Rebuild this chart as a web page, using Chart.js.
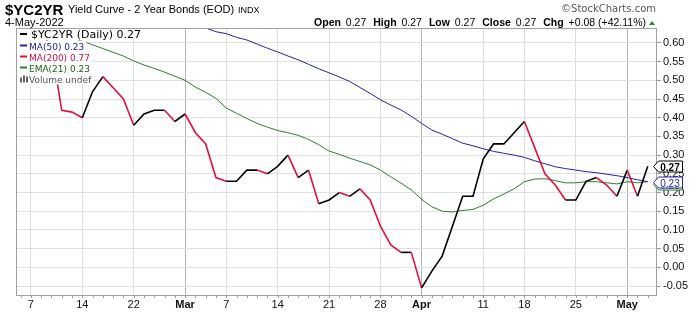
<!DOCTYPE html>
<html>
<head>
<meta charset="utf-8">
<script src="https://cdn.jsdelivr.net/npm/chart.js@4.4.1/dist/chart.umd.min.js"></script>
<style>
html, body { margin: 0; padding: 0; background: #fff; }
</style>
</head>
<body>
<canvas id="yc" width="700" height="312"></canvas>
<script>
// trading days shown, 4-Feb-2022 .. 4-May-2022
const dates = [
  '02-04', '02-07', '02-08', '02-09', '02-10', '02-11', '02-14', '02-15', '02-16', '02-17', '02-18',
  '02-22', '02-23', '02-24', '02-25', '02-28', '03-01', '03-02', '03-03', '03-04',
  '03-07', '03-08', '03-09', '03-10', '03-11', '03-14', '03-15', '03-16', '03-17', '03-18',
  '03-21', '03-22', '03-23', '03-24', '03-25', '03-28', '03-29', '03-30', '03-31', '04-01',
  '04-04', '04-05', '04-06', '04-07', '04-08', '04-11', '04-12', '04-13', '04-14',
  '04-18', '04-19', '04-20', '04-21', '04-22', '04-25', '04-26', '04-27', '04-28', '04-29',
  '05-02', '05-03', '05-04'
];

const closeValues = [
  0.62, 0.61, 0.63, 0.59, 0.42, 0.415, 0.40, 0.47, 0.51, 0.48, 0.45,
  0.38, 0.41, 0.42, 0.42, 0.39, 0.41, 0.36, 0.33, 0.24,
  0.23, 0.23, 0.26, 0.26, 0.25, 0.27, 0.30, 0.24, 0.26, 0.17,
  0.18, 0.20, 0.19, 0.21, 0.18, 0.11, 0.06, 0.04, 0.04, -0.055,
  -0.01, 0.03, 0.11, 0.19, 0.19, 0.29, 0.33, 0.33, 0.36,
  0.39, 0.32, 0.25, 0.22, 0.18, 0.18, 0.23, 0.24, 0.22, 0.19,
  0.26, 0.19, 0.27
];

const ma50Values = [
  0.80, 0.79, 0.78, 0.77, 0.76, 0.75, 0.74, 0.73, 0.72, 0.71, 0.70,
  0.69, 0.68, 0.675, 0.665, 0.655, 0.65, 0.645, 0.64, 0.63,
  0.625, 0.615, 0.608, 0.597, 0.586, 0.576, 0.565, 0.555, 0.543, 0.531,
  0.52, 0.509, 0.497, 0.481, 0.465, 0.448, 0.434, 0.421, 0.404, 0.385,
  0.367, 0.356, 0.344, 0.332, 0.325, 0.317, 0.31, 0.305, 0.30,
  0.294, 0.285, 0.277, 0.269, 0.264, 0.26, 0.256, 0.253, 0.249, 0.245,
  0.24, 0.234, 0.229
];

const ema21Values = [
  0.64, 0.635, 0.63, 0.625, 0.62, 0.612, 0.605, 0.595, 0.585, 0.575, 0.565,
  0.552, 0.541, 0.532, 0.522, 0.511, 0.50, 0.482, 0.468, 0.452,
  0.426, 0.412, 0.398, 0.385, 0.375, 0.366, 0.360, 0.353, 0.342, 0.328,
  0.311, 0.302, 0.292, 0.283, 0.274, 0.260, 0.242, 0.225, 0.207, 0.182,
  0.162, 0.150, 0.148, 0.152, 0.155, 0.166, 0.183, 0.196, 0.21,
  0.229, 0.236, 0.237, 0.232, 0.226, 0.226, 0.229, 0.229, 0.226, 0.223,
  0.229, 0.226, 0.229
];

const tickDates = ['02-07', '02-14', '02-22', '03-01', '03-07', '03-14', '03-21', '03-28', '04-01', '04-11', '04-18', '04-25', '05-02'];
const tickLabels = ['7', '14', '22', 'Mar', '7', '14', '21', '28', 'Apr', '11', '18', '25', 'May'];
const monthLabels = ['Mar', 'Apr', 'May'];
const yTicks = [-0.05, 0, 0.05, 0.10, 0.15, 0.20, 0.25, 0.30, 0.35, 0.40, 0.45, 0.50, 0.55, 0.60];

const legendNames = ['$YC2YR (Daily)', 'MA(50)', 'MA(200)', 'EMA(21)', 'Volume'];
const legendValues = ['0.27', '0.23', '0.77', '0.23', 'undef'];

const RED = '#e0103c';
const BLACK = '#000000';
const MA_BLUE = '#2424a8';
const EMA_GREEN = '#2b7f2b';
const SANS = '"Liberation Sans", Arial, sans-serif';
const VERD = '"DejaVu Sans", Verdana, sans-serif';

const tickPos = tickDates.map(d => dates.indexOf(d));
const labelAt = {};
tickPos.forEach((p, i) => { labelAt[p] = tickLabels[i]; });
const monthPos = tickPos.filter((p, i) => monthLabels.includes(tickLabels[i]));

const toXY = arr => arr.map((v, i) => ({ x: i, y: v }));

const overlay = {
  id: 'overlay',
  beforeDraw(chart) {
    const ctx = chart.ctx;
    ctx.save();
    ctx.fillStyle = '#fff';
    ctx.fillRect(0, 0, chart.width, chart.height);
    ctx.restore();
  },
  afterDraw(chart) {
    const ctx = chart.ctx;
    const a = chart.chartArea;
    const xs = chart.scales.x, ys = chart.scales.y;
    ctx.save();

    // frame left / top
    ctx.strokeStyle = '#a0a0a0';
    ctx.lineWidth = 1;
    ctx.beginPath();
    ctx.moveTo(a.left + 0.5, a.top + 0.5);
    ctx.lineTo(a.right + 0.5, a.top + 0.5);
    ctx.moveTo(a.left + 0.5, a.top);
    ctx.lineTo(a.left + 0.5, a.bottom + 0.5);
    ctx.stroke();

    // small day ticks under the axis
    ctx.strokeStyle = '#999';
    ctx.beginPath();
    dates.forEach((d, i) => {
      const x = Math.round(xs.getPixelForValue(i)) + 0.5;
      ctx.moveTo(x, a.bottom + 1);
      ctx.lineTo(x, a.bottom + 3);
    });
    ctx.stroke();

    // legend rows
    const rows = [
      { font: '11px ' + VERD, color: '#000', mark: '#000', base: 38, tx: 31 },
      { font: '9px ' + VERD, color: '#1a1a8c', mark: MA_BLUE, base: 49.5, tx: 29 },
      { font: '9px ' + VERD, color: '#cc1040', mark: RED, base: 60.5, tx: 29 },
      { font: '9px ' + VERD, color: '#116611', mark: EMA_GREEN, base: 71.5, tx: 29 },
      { font: '9px ' + VERD, color: '#555', mark: null, base: 82.5, tx: 29 }
    ];
    rows.forEach((r, i) => {
      const text = legendNames[i] + ' ' + legendValues[i];
      ctx.font = r.font;
      const w = ctx.measureText(text).width;
      ctx.fillStyle = '#fff';
      ctx.fillRect(a.left + 1, r.base - 9, r.tx + w + 1 - a.left, 11);
      if (r.mark) {
        ctx.fillStyle = r.mark;
        ctx.fillRect(20, r.base - 5, 7, 2);
      } else {
        ctx.fillStyle = '#666';
        ctx.fillRect(20, r.base - 5, 2, 5);
        ctx.fillRect(23, r.base - 7, 2, 7);
        ctx.fillRect(26, r.base - 6, 2, 6);
      }
      ctx.fillStyle = r.color;
      ctx.textBaseline = 'alphabetic';
      ctx.textAlign = 'left';
      ctx.fillText(text, r.tx, r.base);
    });

    // header
    ctx.fillStyle = '#000';
    ctx.font = 'bold 15px ' + SANS;
    ctx.fillText('$YC2YR', 5, 15);
    ctx.font = '11px ' + SANS;
    ctx.fillText('Yield Curve - 2 Year Bonds (EOD)', 68, 13);
    ctx.font = '9px ' + SANS;
    ctx.fillText('INDX', 238, 12.5);
    ctx.font = '11px ' + SANS;
    ctx.fillText('4-May-2022', 5, 26);

    ctx.fillStyle = '#555';
    ctx.font = '10px ' + VERD;
    ctx.textAlign = 'right';
    ctx.fillText('\u00A9StockCharts.com', 656, 11.5);
    ctx.textAlign = 'left';

    const runs = [
      ['Open', true], [' 0.27', false], ['High', true], [' 0.27', false], ['Low', true], [' 0.27', false],
      ['Close', true], [' 0.27', false], ['Chg', true], [' +0.08 (+42.11%)', false]
    ];
    const fontOf = b => (b ? 'bold 10.5px ' : '10.5px ') + SANS;
    const gapAfter = i => (i % 2 === 0 ? 2 : (i < runs.length - 1 ? 7 : 0));
    let total = 0;
    runs.forEach((r, i) => {
      ctx.font = fontOf(r[1]);
      total += ctx.measureText(r[0]).width + gapAfter(i);
    });
    let x = 646 - total;
    ctx.fillStyle = '#000';
    runs.forEach((r, i) => {
      ctx.font = fontOf(r[1]);
      ctx.fillText(r[0], x, 26);
      x += ctx.measureText(r[0]).width + gapAfter(i);
    });
    ctx.fillStyle = '#1f8a1f';
    ctx.beginPath();
    ctx.moveTo(649, 25);
    ctx.lineTo(655, 25);
    ctx.lineTo(652, 21);
    ctx.closePath();
    ctx.fill();

    // value tags on the right
    const tag = (y, text, stroke, color, bold) => {
      y = Math.round(y) + 0.5;
      ctx.beginPath();
      ctx.moveTo(a.right - 2.5, y);
      ctx.lineTo(a.right + 2.5, y - 5.5);
      ctx.lineTo(682.5, y - 5.5);
      ctx.lineTo(682.5, y + 5.5);
      ctx.lineTo(a.right + 2.5, y + 5.5);
      ctx.closePath();
      ctx.fillStyle = '#fff';
      ctx.fill();
      ctx.strokeStyle = stroke;
      ctx.lineWidth = 1;
      ctx.stroke();
      ctx.fillStyle = color;
      ctx.font = (bold ? 'bold ' : '') + '10px ' + SANS;
      ctx.textAlign = 'center';
      ctx.fillText(text, 670, y + 4);
      ctx.textAlign = 'left';
    };
    const last = dates.length - 1;
    tag(ys.getPixelForValue(ema21Values[last]) + 2, ema21Values[last].toFixed(2), EMA_GREEN, EMA_GREEN, false);
    tag(ys.getPixelForValue(ma50Values[last]), ma50Values[last].toFixed(2), MA_BLUE, MA_BLUE, false);
    tag(ys.getPixelForValue(closeValues[last]), closeValues[last].toFixed(2), '#000', '#000', true);

    ctx.restore();
  }
};

new Chart(document.getElementById('yc'), {
  type: 'line',
  data: {
    datasets: [
      {
        label: '$YC2YR',
        data: toXY(closeValues),
        borderWidth: 1.6,
        borderColor: BLACK,
        segment: { borderColor: c => (c.p1.parsed.y < c.p0.parsed.y ? RED : BLACK) },
        pointRadius: 0,
        tension: 0
      },
      {
        label: 'MA(50)',
        data: toXY(ma50Values),
        borderWidth: 1,
        borderColor: MA_BLUE,
        pointRadius: 0,
        tension: 0
      },
      {
        label: 'EMA(21)',
        data: toXY(ema21Values),
        borderWidth: 1,
        borderColor: EMA_GREEN,
        pointRadius: 0,
        tension: 0
      }
    ]
  },
  options: {
    responsive: false,
    animation: false,
    events: [],
    layout: { padding: { top: 28, left: 16, right: 0, bottom: 0 } },
    plugins: { legend: { display: false }, tooltip: { enabled: false } },
    scales: {
      x: {
        type: 'linear',
        min: -0.45,
        max: 61.8,
        afterBuildTicks: s => { s.ticks = tickPos.map(v => ({ value: v })); },
        afterFit: s => { s.height = 17; },
        grid: {
          color: c => (c.tick && monthPos.includes(c.tick.value) ? '#b4b4b4' : '#dddddd'),
          drawTicks: false
        },
        border: { color: '#a0a0a0' },
        ticks: {
          autoSkip: false,
          maxRotation: 0,
          padding: 3,
          color: '#111',
          font: c => ({ family: SANS, size: 11, weight: c.tick && monthLabels.includes(c.tick.label) ? 'bold' : 'normal' }),
          callback: v => labelAt[v]
        }
      },
      y: {
        position: 'right',
        min: -0.074,
        max: 0.64,
        afterBuildTicks: s => { s.ticks = yTicks.map(v => ({ value: v })); },
        afterFit: s => { s.width = 44; },
        grid: { color: '#e0e0e0', tickLength: 5, tickColor: '#999' },
        border: { color: '#a0a0a0' },
        ticks: {
          padding: 2,
          color: '#111',
          font: { family: SANS, size: 11 },
          callback: v => v.toFixed(2)
        }
      }
    }
  },
  plugins: [overlay]
});
</script>
</body>
</html>
